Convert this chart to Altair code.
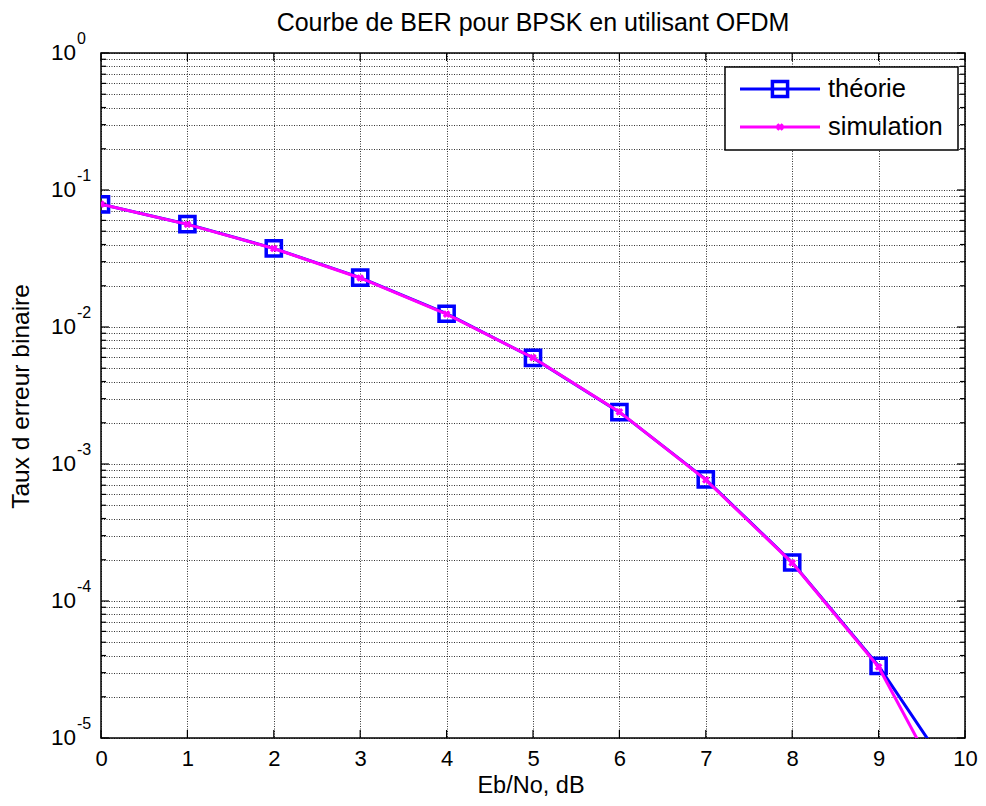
import altair as alt
import pandas as pd

# ---- data ----
ebno = [0, 1, 2, 3, 4, 5, 6, 7, 8, 9, 10]
ber_theory = [0.0786, 0.0563, 0.0375, 0.0229, 0.0125, 0.00595, 0.00239,
              0.000773, 0.000191, 3.36e-5, 3.87e-6]
ber_sim = [0.0788, 0.0561, 0.0374, 0.0228, 0.0124, 0.00597, 0.00240,
           0.000765, 0.000190, 3.30e-5, 2.2e-6]
x_ticks = [0, 1, 2, 3, 4, 5, 6, 7, 8, 9, 10]
y_exps = [0, -1, -2, -3, -4, -5]
title_txt = "Courbe de BER pour BPSK en utilisant OFDM"
xlabel = "Eb/No, dB"
ylabel = "Taux d erreur binaire"
legend_labels = ["théorie", "simulation"]

W, H = 864, 685
FONT = "Liberation Sans"

y_major = [10.0 ** e for e in y_exps]
y_minor = [m * 10.0 ** e for e in y_exps[1:] for m in range(2, 10)]
y_all = sorted(y_major + y_minor)

df_th = pd.DataFrame({"x": ebno, "y": ber_theory})
df_si = pd.DataFrame({"x": ebno, "y": ber_sim})
df_xt = pd.DataFrame({"x": x_ticks})
df_ymaj = pd.DataFrame({"y": y_major, "e": [str(e) for e in y_exps]})
df_ymin = pd.DataFrame({"y": y_minor})

xs = alt.Scale(domain=[0, 10], nice=False)
ys = alt.Scale(type="log", domain=[1e-5, 1], nice=False)

X = alt.X("x:Q", scale=xs, axis=alt.Axis(
    values=x_ticks, format="d", grid=True, gridDash=[1, 1.5], gridColor="#000",
    gridOpacity=0.8, gridWidth=1, ticks=False, domain=False, labelFontSize=22,
    labelFont=FONT, labelColor="#000", labelPadding=10, title=None, labelFlush=False))
Y = alt.Y("y:Q", scale=ys, axis=alt.Axis(
    values=y_all, grid=True, gridDash=[1, 1.5], gridColor="#000", gridOpacity=0.8,
    gridWidth=1, ticks=False, domain=False, labels=False, title=None))

base_grid = alt.Chart(df_th).mark_point(opacity=0).encode(x=X, y=Y)

xs_enc = alt.X("x:Q", scale=xs)
ys_enc = alt.Y("y:Q", scale=ys)

# inward ticks (MATLAB style)
xt_bot = alt.Chart(df_xt).mark_rule(color="#000", strokeWidth=1.2).encode(
    x=xs_enc, y=alt.value(H), y2=alt.value(H - 8))
xt_top = alt.Chart(df_xt).mark_rule(color="#000", strokeWidth=1.2).encode(
    x=xs_enc, y=alt.value(0), y2=alt.value(8))
yt_maj_l = alt.Chart(df_ymaj).mark_rule(color="#000", strokeWidth=1.2).encode(
    y=ys_enc, x=alt.value(0), x2=alt.value(8))
yt_maj_r = alt.Chart(df_ymaj).mark_rule(color="#000", strokeWidth=1.2).encode(
    y=ys_enc, x=alt.value(W), x2=alt.value(W - 8))
yt_min_l = alt.Chart(df_ymin).mark_rule(color="#000", strokeWidth=1.2).encode(
    y=ys_enc, x=alt.value(0), x2=alt.value(5))
yt_min_r = alt.Chart(df_ymin).mark_rule(color="#000", strokeWidth=1.2).encode(
    y=ys_enc, x=alt.value(W), x2=alt.value(W - 5))

th_line = alt.Chart(df_th).mark_line(color="#0000ff", strokeWidth=3, clip=True).encode(
    x=xs_enc, y=ys_enc)
th_pts = alt.Chart(df_th).mark_point(shape="square", size=230, filled=False,
                                     color="#0000ff", strokeWidth=3.5, opacity=1,
                                     clip=True).encode(x=xs_enc, y=ys_enc)
si_line = alt.Chart(df_si).mark_line(color="#ff00ff", strokeWidth=3, clip=True).encode(
    x=xs_enc, y=ys_enc)
si_pts = alt.Chart(df_si).mark_point(shape="cross", size=60, filled=True,
                                     color="#ff00ff", angle=45, opacity=1,
                                     clip=True).encode(x=xs_enc, y=ys_enc)

# y tick labels 10^k
ylab10 = alt.Chart(df_ymaj).mark_text(align="right", baseline="middle", fontSize=22.5,
                                      font=FONT, color="#000").encode(
    y=ys_enc, x=alt.value(-25), text=alt.value("10"))
ylabexp = alt.Chart(df_ymaj).mark_text(align="left", baseline="middle", fontSize=16,
                                       font=FONT, color="#000", dy=-14).encode(
    y=ys_enc, x=alt.value(-24), text="e:N")

# titles
t_title = alt.Chart(pd.DataFrame({"t": [title_txt]})).mark_text(
    fontSize=25, font=FONT, color="#000", align="center", baseline="alphabetic").encode(
    x=alt.value(W / 2), y=alt.value(-22), text="t:N")
t_x = alt.Chart(pd.DataFrame({"t": [xlabel]})).mark_text(
    fontSize=23.5, font=FONT, color="#000", align="center", baseline="alphabetic").encode(
    x=alt.value(W / 2 - 2), y=alt.value(H + 55), text="t:N")
t_y = alt.Chart(pd.DataFrame({"t": [ylabel]})).mark_text(
    fontSize=24.5, font=FONT, color="#000", align="center", baseline="middle",
    angle=270).encode(x=alt.value(-79), y=alt.value(H / 2 + 1), text="t:N")

# legend
lx0, lx1, ly0, ly1 = 624, 857, 14, 97
leg_box = alt.Chart(pd.DataFrame({"a": [0]})).mark_rect(
    fill="#fff", stroke="#000", strokeWidth=1.5).encode(
    x=alt.value(lx0), x2=alt.value(lx1), y=alt.value(ly0), y2=alt.value(ly1))
leg_l1 = alt.Chart(pd.DataFrame({"a": [0]})).mark_rule(color="#0000ff", strokeWidth=3).encode(
    x=alt.value(639), x2=alt.value(719), y=alt.value(36))
leg_m1 = alt.Chart(pd.DataFrame({"a": [0]})).mark_point(
    shape="square", size=230, filled=False, color="#0000ff", strokeWidth=3.5, opacity=1).encode(
    x=alt.value(679), y=alt.value(36))
leg_l2 = alt.Chart(pd.DataFrame({"a": [0]})).mark_rule(color="#ff00ff", strokeWidth=3).encode(
    x=alt.value(639), x2=alt.value(719), y=alt.value(74))
leg_m2 = alt.Chart(pd.DataFrame({"a": [0]})).mark_point(
    shape="cross", size=60, filled=True, color="#ff00ff", angle=45, opacity=1).encode(
    x=alt.value(679), y=alt.value(74))
leg_t = alt.Chart(pd.DataFrame({"t": legend_labels, "yy": [36, 74]})).mark_text(
    fontSize=25.5, font=FONT, color="#000", align="left", baseline="middle").encode(
    x=alt.value(727), y=alt.Y("yy:Q", scale=None), text="t:N")

chart = alt.layer(
    base_grid, xt_bot, xt_top, yt_maj_l, yt_maj_r, yt_min_l, yt_min_r,
    th_line, th_pts, si_line, si_pts,
    ylab10, ylabexp, t_title, t_x, t_y,
    leg_box, leg_l1, leg_m1, leg_l2, leg_m2, leg_t,
).properties(
    width=W, height=H,
    autosize=alt.AutoSizeParams(type="none"),
    padding={"left": 93, "top": 45, "right": 13, "bottom": 60},
    background="#ffffff",
).configure_view(stroke="#000", strokeWidth=1.5)

chart.save("out.html", embed_options={"renderer": "svg", "actions": False})
